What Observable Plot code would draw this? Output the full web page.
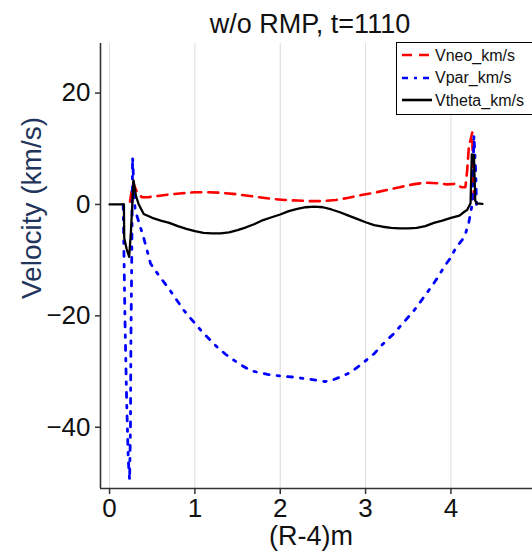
<!DOCTYPE html>
<html><head><meta charset="utf-8">
<script src="https://cdn.jsdelivr.net/npm/d3@7"></script>
<script src="https://cdn.jsdelivr.net/npm/@observablehq/plot@0.6"></script>
<style>
body{margin:0;background:#fff;}
#wrap{position:relative;width:532px;height:554px;overflow:hidden;font-family:"Liberation Sans",Arial,sans-serif;}
#wrap svg{position:absolute;left:0;top:0;}
</style></head><body><div id="wrap"></div>
<script>
const titleText = "w/o RMP, t=1110";
const xLabel = "(R-4)m";
const yLabel = "Velocity (km/s)";
const seriesNames = ["Vneo_km/s", "Vpar_km/s", "Vtheta_km/s"];
const xTicks = [0, 1, 2, 3, 4];
const yTicks = [-40, -20, 0, 20];
const xDomain = [-0.106, 4.956];
const yDomain = [-51, 28.9];

const xNeo = [0.24,0.26,0.28,0.30,0.33,0.38,0.45,0.55,0.7,0.85,1.0,1.15,1.3,1.45,1.6,1.75,1.9,2.05,2.2,2.35,2.5,2.65,2.8,2.95,3.1,3.25,3.4,3.55,3.7,3.85,3.95,4.05,4.12,4.17,4.19,4.21,4.25,4.26,4.27];
const yNeo = [0.5,2.5,3.8,3.0,2.0,1.3,1.3,1.5,1.8,2.0,2.2,2.2,2.1,1.9,1.6,1.3,1.0,0.8,0.7,0.6,0.6,0.8,1.2,1.7,2.1,2.6,3.1,3.6,3.9,3.8,3.6,3.7,3.1,3.1,6.0,10.3,12.9,5.0,1.0];

const xPar = [0.16,0.165,0.18,0.2,0.22,0.235,0.245,0.25,0.26,0.27,0.285,0.3,0.33,0.4,0.48,0.58,0.68,0.78,0.87,0.97,1.07,1.17,1.26,1.36,1.46,1.56,1.65,1.75,1.85,2.0,2.16,2.3,2.44,2.52,2.6,2.7,2.83,2.95,3.1,3.2,3.33,3.45,3.57,3.67,3.77,3.85,3.92,4.0,4.04,4.1,4.14,4.17,4.21,4.25,4.27,4.29,4.3];
const yPar = [0,-5,-20,-35,-46,-49.5,-40,-25,-10,8.5,3,-1,-2.5,-6,-10.6,-12.8,-14.8,-17,-19,-20.8,-22.6,-24.2,-25.6,-26.9,-28,-29,-29.8,-30.2,-30.5,-30.8,-31,-31.3,-31.6,-31.8,-31.6,-31,-30.1,-28.7,-26.8,-25.1,-23.2,-21.1,-19,-16.9,-14.8,-13,-11.2,-9.5,-8.3,-7,-6.2,-5.3,-3.2,0.1,12.4,6,0];

const xTheta = [0,0.168,0.172,0.2,0.23,0.25,0.28,0.31,0.34,0.4,0.5,0.6,0.7,0.8,0.9,1.0,1.1,1.2,1.3,1.4,1.5,1.6,1.7,1.8,1.9,2.0,2.1,2.2,2.3,2.4,2.5,2.6,2.7,2.8,2.9,3.0,3.1,3.2,3.3,3.4,3.5,3.6,3.7,3.8,3.9,4.0,4.1,4.15,4.19,4.23,4.245,4.27,4.285,4.3,4.37];
const yTheta = [0,0,-6,-8,-9.4,-5,4.3,1.5,0.1,-1.7,-2.4,-2.9,-3.3,-3.9,-4.4,-4.8,-5.1,-5.2,-5.2,-5.0,-4.6,-4.1,-3.5,-2.8,-2.3,-1.8,-1.2,-0.8,-0.5,-0.4,-0.5,-0.9,-1.4,-2.0,-2.6,-3.2,-3.7,-4.0,-4.2,-4.3,-4.3,-4.2,-3.9,-3.3,-2.9,-2.4,-2.0,-1.4,-1.0,0.2,9.0,8.8,0.7,0.2,0.1];

const neo = xNeo.map((x, i) => ({x, y: yNeo[i]}));
const par = xPar.map((x, i) => ({x, y: yPar[i]}));
const theta = xTheta.map((x, i) => ({x, y: yTheta[i]}));

const W = 532, H = 554;
const mL = 100, mR = 0, mT = 43, mB = 66;

const chart = Plot.plot({
  width: W, height: H,
  marginLeft: mL, marginRight: mR, marginTop: mT, marginBottom: mB,
  style: {fontFamily: '"Liberation Sans", Arial, sans-serif', fontSize: "26px", color: "#111", background: "transparent"},
  x: {domain: xDomain, ticks: xTicks},
  y: {domain: yDomain, ticks: yTicks},
  marks: [
    Plot.gridX(xTicks, {stroke: "#dcdcdc", strokeOpacity: 1, strokeWidth: 1}),
    Plot.line(neo, {x: "x", y: "y", stroke: "#ff0000", strokeWidth: 2.6, strokeDasharray: "10,7"}),
    Plot.line(par, {x: "x", y: "y", stroke: "#0000ff", strokeWidth: 2.8, strokeDasharray: "5,8,2.5,8"}),
    Plot.line(theta, {x: "x", y: "y", stroke: "#000", strokeWidth: 2.3}),
    Plot.ruleX([xDomain[0]], {stroke: "#333", strokeWidth: 1.6}),
    Plot.ruleY([yDomain[0]], {stroke: "#333", strokeWidth: 1.6}),
    Plot.axisX(xTicks, {label: null, tickSize: 6, tickPadding: 4, stroke: "#333", strokeWidth: 1.5, fill: "#111"}),
    Plot.axisY(yTicks, {label: null, tickSize: 5, tickPadding: 5, stroke: "#333", strokeWidth: 1.5, fill: "#111"})
  ]
});
const wrap = document.getElementById("wrap");
wrap.appendChild(chart);

// overlay: title, axis labels, legend
const ov = d3.select(wrap).append("svg").attr("width", W).attr("height", H)
  .style("font-family", '"Liberation Sans", Arial, sans-serif');
ov.append("text").attr("x", 310).attr("y", 33).attr("text-anchor", "middle")
  .attr("font-size", 27).attr("fill", "#111").text(titleText);
ov.append("text").attr("x", 311).attr("y", 545).attr("text-anchor", "middle")
  .attr("font-size", 27).attr("fill", "#111").text(xLabel);
ov.append("text").attr("transform", "translate(41,208) rotate(-90)").attr("text-anchor", "middle")
  .attr("font-size", 28).attr("fill", "#1f355c").text(yLabel);

const lg = ov.append("g");
lg.append("rect").attr("x", 396.5).attr("y", 42.5).attr("width", 160).attr("height", 72)
  .attr("fill", "#fff").attr("stroke", "#000").attr("stroke-width", 1);
const legendStyles = [
  {stroke: "#ff0000", dash: "10,7"},
  {stroke: "#0000ff", dash: "6,6,3,6"},
  {stroke: "#000", dash: null}
];
const ly = [55, 78, 100];
const ty = [61, 83, 106];
seriesNames.forEach((name, i) => {
  const l = lg.append("line").attr("x1", 402).attr("x2", 432).attr("y1", ly[i]).attr("y2", ly[i])
    .attr("stroke", legendStyles[i].stroke).attr("stroke-width", 2.6);
  if (legendStyles[i].dash) l.attr("stroke-dasharray", legendStyles[i].dash);
  lg.append("text").attr("x", 435).attr("y", ty[i]).attr("font-size", 16).attr("fill", "#111").text(name);
});
</script>
</body></html>
